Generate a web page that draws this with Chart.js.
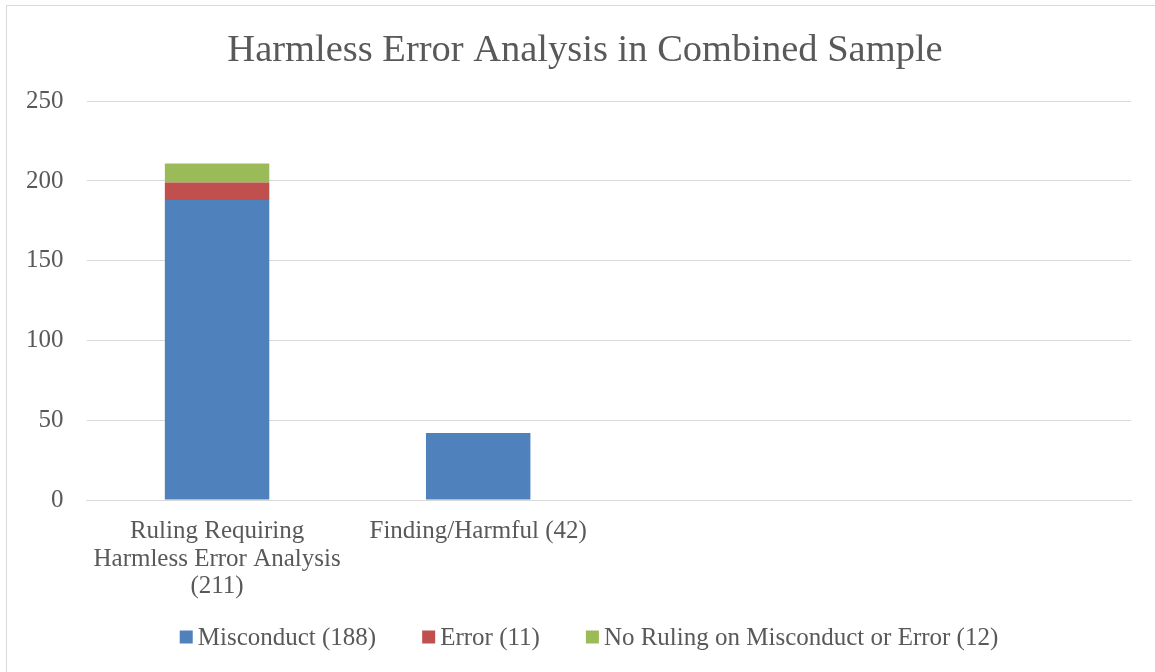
<!DOCTYPE html>
<html>
<head>
<meta charset="utf-8">
<script src="https://cdn.jsdelivr.net/npm/chart.js@4"></script>
<style>
  body { margin: 0; background: #fff; }
  #wrap { position: absolute; left: 0; top: 0; width: 1155px; height: 672px; }
  #frame { position: absolute; left: 6px; top: 5px; width: 1160px; height: 680px; border: 1px solid #d9d9d9; }
</style>
</head>
<body>
<div id="frame"></div>
<div id="wrap"><canvas id="myChart" width="1155" height="672"></canvas></div>
<script>
const categories = [
  ['Ruling Requiring', 'Harmless Error Analysis', '(211)'],
  'Finding/Harmful (42)',
  '',
  ''
]

const misconduct = [188, 42, null, null]
const error = [11, 0, null, null]
const noRuling = [12, 0, null, null]

const yTicks = [0, 50, 100, 150, 200, 250]

const textColor = '#595959'
const font = 'Liberation Serif'

// legend drawn by hand so the gap between items can be wider than its height
const bottomLegend = {
  id: 'bottomLegend',
  afterLayout: function (chart) {
    // the title sits a little right of the plot centre
    if (chart.titleBlock) {
      chart.titleBlock.left += 18
      chart.titleBlock.right += 18
    }
  },
  afterDraw: function (chart) {
    var c = chart.ctx
    var items = chart.data.datasets
    var box = 13, gap = 5, spacing = 46, y = 637
    c.save()
    c.font = '25px "' + font + '"'
    c.textBaseline = 'middle'
    var widths = items.map(function (d) { return c.measureText(d.label).width })
    var total = 0
    widths.forEach(function (w, i) { total += box + gap + w + (i < widths.length - 1 ? spacing : 0) })
    var x = 589 - total / 2
    items.forEach(function (d, i) {
      c.fillStyle = d.backgroundColor
      c.fillRect(x, y - box / 2, box, box)
      c.fillStyle = textColor
      c.fillText(d.label, x + box + gap, y + 1)
      x += box + gap + widths[i] + spacing
    })
    c.restore()
  }
}

var ctx = document.getElementById('myChart').getContext('2d')
var myChart = new Chart(ctx, {
  type: 'bar',
  data: {
    labels: categories,
    datasets: [
      { label: 'Misconduct (188)', data: misconduct, backgroundColor: '#4F81BD' },
      { label: 'Error (11)', data: error, backgroundColor: '#C0504D' },
      { label: 'No Ruling on Misconduct or Error (12)', data: noRuling, backgroundColor: '#9BBB59' }
    ]
  },
  plugins: [bottomLegend],
  options: {
    responsive: false,
    animation: false,
    layout: { padding: { left: 3, right: 24, top: 18, bottom: 67 } },
    datasets: {
      bar: { categoryPercentage: 1, barPercentage: 0.4 }
    },
    plugins: {
      title: {
        display: true,
        text: 'Harmless Error Analysis in Combined Sample',
        color: textColor,
        font: { family: font, size: 38.5, weight: 'normal' },
        padding: { top: 10, bottom: 27 }
      },
      legend: { display: false },
      tooltip: { enabled: false }
    },
    scales: {
      x: {
        stacked: true,
        grid: { display: false },
        border: { color: '#d9d9d9', width: 1 },
        afterFit: function (scale) {
          scale.height = 105
        },
        ticks: {
          color: textColor,
          font: { family: font, size: 25, lineHeight: 1.1 },
          padding: 10,
          maxRotation: 0,
          autoSkip: false
        }
      },
      y: {
        stacked: true,
        min: 0,
        max: 250,
        afterBuildTicks: function (axis) {
          axis.ticks = yTicks.map(function (v) { return { value: v } })
        },
        grid: { color: '#d9d9d9', drawTicks: false },
        border: { display: false },
        ticks: {
          color: textColor,
          font: { family: font, size: 25 },
          padding: 23
        }
      }
    }
  }
})
</script>
</body>
</html>
